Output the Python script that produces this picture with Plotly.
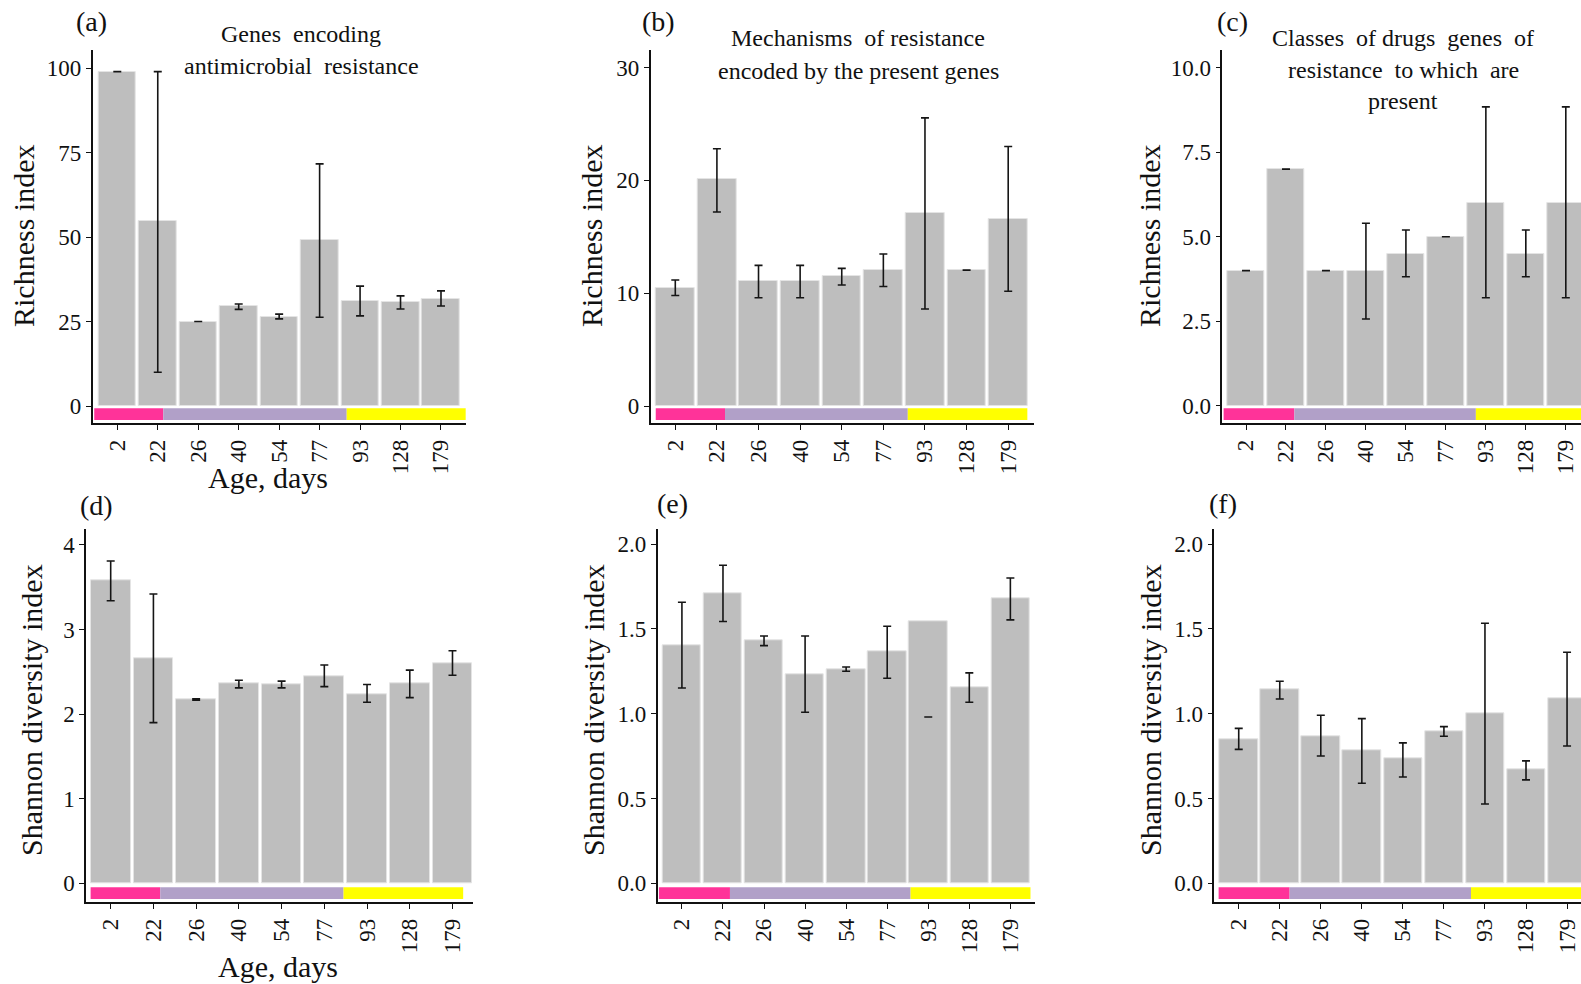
import plotly.graph_objects as go

# Sampling ages (days) shared by all panels
ages = ["2", "22", "26", "40", "54", "77", "93", "128", "179"]

# Age-stage strip drawn under the bars
stage_colors = ["#FF3399", "#B1A0C8", "#FFFF00"]

# (a) Richness: genes encoding antimicrobial resistance
rich_genes = [99.0, 54.8, 25.0, 29.5, 26.5, 49.2, 31.1, 30.7, 31.8]
rich_genes_lo = [99.0, 10.0, 25.0, 28.6, 25.8, 26.3, 26.7, 28.7, 29.6]
rich_genes_hi = [99.0, 99.0, 25.0, 30.2, 27.2, 71.7, 35.5, 32.6, 34.1]

# (b) Richness: mechanisms of resistance
rich_mech = [10.5, 20.1, 11.05, 11.05, 11.5, 12.1, 17.1, 12.1, 16.55]
rich_mech_lo = [9.8, 17.2, 9.6, 9.6, 10.73, 10.6, 8.6, 12.05, 10.17]
rich_mech_hi = [11.17, 22.8, 12.47, 12.47, 12.2, 13.48, 25.54, 12.05, 23.0]

# (c) Richness: drug classes
rich_cls = [4.0, 7.0, 4.0, 4.0, 4.5, 5.0, 6.0, 4.5, 6.0]
rich_cls_lo = [4.0, 7.0, 4.0, 2.57, 3.82, 5.0, 3.2, 3.82, 3.2]
rich_cls_hi = [4.0, 7.0, 4.0, 5.4, 5.2, 5.0, 8.84, 5.2, 8.84]

# (d) Shannon: genes
sh_genes = [3.58, 2.66, 2.18, 2.37, 2.355, 2.45, 2.24, 2.37, 2.6]
sh_genes_lo = [3.34, 1.9, 2.165, 2.31, 2.31, 2.325, 2.14, 2.195, 2.46]
sh_genes_hi = [3.81, 3.42, 2.18, 2.40, 2.39, 2.58, 2.35, 2.52, 2.75]

# (e) Shannon: mechanisms
sh_mech = [1.404, 1.709, 1.432, 1.233, 1.26, 1.367, 1.548, 1.156, 1.681]
sh_mech_lo = [1.152, 1.544, 1.402, 1.009, 1.251, 1.209, 0.981, 1.068, 1.554]
sh_mech_hi = [1.658, 1.876, 1.459, 1.459, 1.276, 1.516, 0.981, 1.241, 1.801]

# (f) Shannon: drug classes
sh_cls = [0.85, 1.146, 0.869, 0.785, 0.737, 0.899, 1.003, 0.671, 1.09]
sh_cls_lo = [0.79, 1.087, 0.751, 0.59, 0.627, 0.867, 0.468, 0.61, 0.81]
sh_cls_hi = [0.914, 1.192, 0.991, 0.971, 0.828, 0.924, 1.534, 0.722, 1.363]

W, H = 1581, 984
FONT = "Liberation Serif, Times New Roman, serif"
INK = "#111111"


def px_x(p):
    return p / W


def px_y(p):
    return 1 - p / H


panels = [
    dict(v=rich_genes, lo=rich_genes_lo, hi=rich_genes_hi, xd=(92.7, 466), yd=(50, 422.7),
         xr=[-0.608, 8.618], yr=[-4.94, 105.4], tv=[0, 25, 50, 75, 100], fmt="d",
         edges=[-0.57, 1.137, 5.67, 8.61]),
    dict(v=rich_mech, lo=rich_mech_lo, hi=rich_mech_hi, xd=(650.7, 1034), yd=(50, 422.7),
         xr=[-0.591, 8.62], yr=[-1.48, 31.56], tv=[0, 10, 20, 30], fmt="d",
         edges=[-0.47, 1.195, 5.587, 8.46]),
    dict(v=rich_cls, lo=rich_cls_lo, hi=rich_cls_hi, xd=(1222.3, 1581), yd=(50, 422.7),
         xr=[-0.593, 8.38], yr=[-0.494, 10.52], tv=[0, 2.5, 5, 7.5, 10], fmt=".1f",
         edges=[-0.56, 1.21, 5.75, 9.0]),
    dict(v=sh_genes, lo=sh_genes_lo, hi=sh_genes_hi, xd=(86, 473), yd=(529.3, 901.7),
         xr=[-0.578, 8.48], yr=[-0.2175, 4.185], tv=[0, 1, 2, 3, 4], fmt="d",
         edges=[-0.47, 1.16, 5.45, 8.25]),
    dict(v=sh_mech, lo=sh_mech_lo, hi=sh_mech_hi, xd=(657.7, 1035), yd=(529.3, 901.7),
         xr=[-0.59, 8.6], yr=[-0.1086, 2.088], tv=[0, 0.5, 1, 1.5, 2], fmt=".1f",
         edges=[-0.56, 1.17, 5.57, 8.49]),
    dict(v=sh_cls, lo=sh_cls_lo, hi=sh_cls_hi, xd=(1214.3, 1581), yd=(529.3, 901.7),
         xr=[-0.595, 8.34], yr=[-0.1086, 2.088], tv=[0, 0.5, 1, 1.5, 2], fmt=".1f",
         edges=[-0.49, 1.24, 5.66, 9.0]),
]

fig = go.Figure()
layout = dict(
    width=W, height=H, margin=dict(l=0, r=0, t=0, b=0),
    paper_bgcolor="white", plot_bgcolor="white", showlegend=False,
    font=dict(family=FONT, color=INK, size=23),
    bargap=0, shapes=[], annotations=[],
)

for i, p in enumerate(panels, start=1):
    xa = "x" if i == 1 else f"x{i}"
    ya = "y" if i == 1 else f"y{i}"
    xkey = "xaxis" if i == 1 else f"xaxis{i}"
    ykey = "yaxis" if i == 1 else f"yaxis{i}"

    fig.add_trace(go.Bar(
        x=ages, y=p["v"], xaxis=xa, yaxis=ya, width=0.93,
        marker=dict(color="#BEBEBE", line=dict(color="#E4E4E4", width=1)),
        hoverinfo="x+y",
    ))
    mid = [(a + b) / 2 for a, b in zip(p["lo"], p["hi"])]
    half = [(b - a) / 2 for a, b in zip(p["lo"], p["hi"])]
    fig.add_trace(go.Scatter(
        x=ages, y=mid, xaxis=xa, yaxis=ya, mode="markers",
        marker=dict(size=1, color="rgba(0,0,0,0)"),
        error_y=dict(type="data", array=half, symmetric=True,
                     color="#151515", thickness=1.6, width=4),
        hoverinfo="skip",
    ))

    layout[xkey] = dict(
        domain=[px_x(p["xd"][0]), px_x(p["xd"][1])], anchor=ya,
        type="category", categoryorder="array", categoryarray=ages,
        range=p["xr"], showgrid=False, zeroline=False,
        showline=True, linecolor="#111111", linewidth=1.5,
        ticks="outside", ticklen=6, tickwidth=1.2, tickcolor="#111111",
        tickangle=-90, tickfont=dict(family=FONT, size=23, color=INK),
        fixedrange=True,
    )
    layout[ykey] = dict(
        domain=[px_y(p["yd"][1]), px_y(p["yd"][0])], anchor=xa,
        range=p["yr"], showgrid=False, zeroline=False,
        showline=True, linecolor="#111111", linewidth=1.5,
        ticks="outside", ticklen=5, tickwidth=1.2, tickcolor="#111111",
        tickvals=p["tv"], tickformat=p["fmt"],
        tickfont=dict(family=FONT, size=23, color=INK),
        fixedrange=True,
    )

    # age-stage colour strip just above the x axis line
    e = p["edges"]
    for k, col in enumerate(stage_colors):
        layout["shapes"].append(dict(
            type="rect", xref=xa, yref=f"{ya} domain",
            x0=e[k], x1=e[k + 1], y0=0.007, y1=0.039,
            fillcolor=col, line=dict(width=0), layer="above",
        ))


def ann(text, x, y, size, angle=0, xanchor="center"):
    layout["annotations"].append(dict(
        text=text, x=px_x(x), y=px_y(y), xref="paper", yref="paper",
        showarrow=False, textangle=angle, xanchor=xanchor, yanchor="middle",
        font=dict(family=FONT, size=size, color=INK),
    ))


# panel letters
for lab, x, y in [("(a)", 91, 21), ("(b)", 658, 21), ("(c)", 1232, 21),
                  ("(d)", 96, 505), ("(e)", 672, 503), ("(f)", 1223, 503)]:
    ann(lab, x, y, 28)

# panel headings
ann("Genes  encoding", 301, 34, 24)
ann("antimicrobial  resistance", 301, 66, 24)
ann("Mechanisms  of resistance", 858, 38, 24)
ann("encoded by the present genes", 858, 71, 24)
ann("Classes  of drugs  genes  of", 1403, 38, 24)
ann("resistance  to which  are", 1403, 70, 24)
ann("present", 1403, 101, 24)

# axis titles
ann("Age, days", 268, 477, 30)
ann("Age, days", 278, 966, 30)
for x in (23, 591, 1149):
    ann("Richness index", x, 236, 30, angle=-90)
for x in (31, 593, 1150):
    ann("Shannon diversity index", x, 710, 30, angle=-90)

fig.update_layout(**layout)
fig.write_html("out.html")
